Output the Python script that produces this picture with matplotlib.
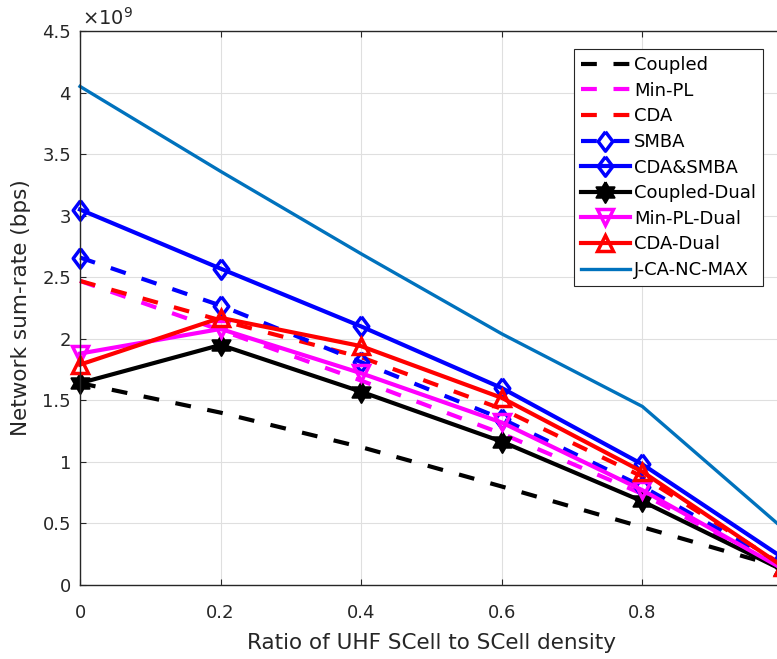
import numpy as np
import matplotlib
matplotlib.use("Agg")
import matplotlib.pyplot as plt
from matplotlib.ticker import FuncFormatter

plt.rcParams['font.family'] = ['DejaVu Sans']
plt.rcParams['mathtext.fontset'] = 'dejavusans'

# ---- data (sum-rate in units of 1e9 bps) ----
ratio = [0.0, 0.2, 0.4, 0.6, 0.8, 1.0]
coupled = [1.64, 1.40, 1.12, 0.80, 0.47, 0.14]
min_pl = [2.47, 2.07, 1.66, 1.23, 0.74, 0.12]
cda = [2.47, 2.15, 1.85, 1.43, 0.88, 0.16]
smba = [2.66, 2.27, 1.81, 1.35, 0.80, 0.16]
cda_smba = [3.05, 2.57, 2.10, 1.60, 0.98, 0.22]
coupled_dual = [1.64, 1.95, 1.57, 1.165, 0.68, 0.12]
min_pl_dual = [1.88, 2.08, 1.72, 1.32, 0.77, 0.13]
cda_dual = [1.79, 2.17, 1.94, 1.52, 0.92, 0.15]
jca_max = [4.05, 3.36, 2.69, 2.04, 1.45, 0.46]

labels = ['Coupled', 'Min-PL', 'CDA', 'SMBA', 'CDA&SMBA',
          'Coupled-Dual', 'Min-PL-Dual', 'CDA-Dual', 'J-CA-NC-MAX']
yticks = [0, 0.5, 1, 1.5, 2, 2.5, 3, 3.5, 4, 4.5]
xticks = [0, 0.2, 0.4, 0.6, 0.8, 1.0]
xticklabels = ['0', '0.2', '0.4', '0.6', '0.8', '']
SCALE = 1e9

# markers
diamond = [(0, 1), (0.75, 0), (0, -1), (-0.75, 0), (0, 1)]
hexa = []
for k in range(12):
    ang = np.pi / 2 + k * np.pi / 6
    r = 1.0 if k % 2 == 0 else 1 / np.sqrt(3)
    hexa.append((r * np.cos(ang), r * np.sin(ang)))
hexa.append(hexa[0])

fig = plt.figure(figsize=(7.77, 6.59), dpi=100)
ax = fig.add_axes([80 / 777, 74 / 659, 703 / 777, 554 / 659])

lw = 3.0
dash = (3.8, 4.0)
x = np.array(ratio)


def P(vals):
    return np.array(vals) * SCALE


mew = 2.5
ax.plot(x, P(coupled), color='k', lw=lw, dashes=dash, label=labels[0], clip_on=False)
ax.plot(x, P(min_pl), color='#ff00ff', lw=lw, dashes=dash, label=labels[1], clip_on=False)
ax.plot(x, P(cda), color='#ff0000', lw=lw, dashes=dash, label=labels[2], clip_on=False)
ax.plot(x, P(smba), color='#0000ff', lw=lw, dashes=dash, marker=diamond, ms=14,
        mew=mew, mfc='none', label=labels[3], clip_on=False)
ax.plot(x, P(cda_smba), color='#0000ff', lw=lw, marker=diamond, ms=14,
        mew=mew, mfc='none', label=labels[4], clip_on=False)
ax.plot(x, P(coupled_dual), color='k', lw=lw, marker=hexa, ms=15,
        mew=1.5, mfc='k', label=labels[5], clip_on=False)
ax.plot(x, P(min_pl_dual), color='#ff00ff', lw=lw, marker='v', ms=11.5,
        mew=mew, mfc='none', label=labels[6], clip_on=False)
ax.plot(x, P(cda_dual), color='#ff0000', lw=lw, marker='^', ms=11.5,
        mew=mew, mfc='none', label=labels[7], clip_on=False)
ax.plot(x, P(jca_max), color='#0072BD', lw=2.4, label=labels[8], clip_on=False)

ax.set_xlim(0, 1)
ax.set_ylim(0, 4.5 * SCALE)
ax.set_xticks(xticks)
ax.set_xticklabels(xticklabels)
ax.set_yticks([v * SCALE for v in yticks])
ax.yaxis.set_major_formatter(FuncFormatter(lambda v, p: '%g' % (v / SCALE)))

ax.grid(True, color='#dfdfdf', lw=0.8)
ax.set_axisbelow(True)
for s in ax.spines.values():
    s.set_color('#262626')
    s.set_linewidth(1.0)
ax.tick_params(direction='in', length=4.5, width=0.8, colors='#262626',
               labelsize=13, top=True, right=True)
ax.tick_params(axis='x', pad=14)
ax.tick_params(axis='y', pad=6.5)

ax.set_xlabel('Ratio of UHF SCell to SCell density', fontsize=15.5, color='#262626')
ax.set_ylabel('Network sum-rate (bps)', fontsize=15.5, color='#262626')
ax.xaxis.set_label_coords(0.5, -0.086)
ax.yaxis.set_label_coords(-0.069, 0.5)

ax.text(0.003, 1.0108, r'$\times10^{9}$', transform=ax.transAxes, fontsize=14,
        ha='left', va='baseline', color='#262626')

leg = ax.legend(loc='upper right', bbox_to_anchor=(0.9716, 0.9675), fontsize=13,
                frameon=True, fancybox=False, framealpha=1, edgecolor='#262626',
                borderpad=0.4, labelspacing=0.42, handlelength=2.7,
                handletextpad=0.22, borderaxespad=0, numpoints=1)
leg.get_frame().set_linewidth(0.8)
leg.set_zorder(10)

fig.savefig('out.png', dpi=100)
